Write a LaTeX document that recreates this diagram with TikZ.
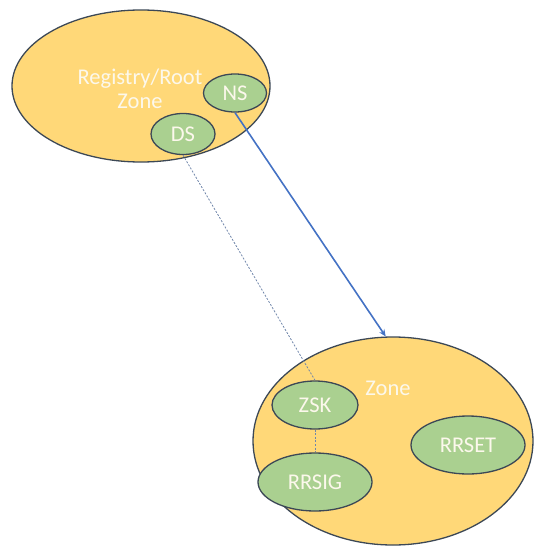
\documentclass[tikz,border=0pt]{standalone}
\usepackage{fontspec}
\setmainfont{Carlito}
\usetikzlibrary{shapes.geometric,arrows.meta}
\definecolor{zonefill}{RGB}{255,216,120}
\definecolor{keyfill}{RGB}{170,208,144}
\definecolor{rim}{RGB}{60,72,86}
\definecolor{link}{RGB}{68,114,196}
\definecolor{sig}{RGB}{112,134,170}
\definecolor{label}{RGB}{252,248,236}

\begin{document}
\begin{tikzpicture}[x=1pt,y=-1pt,
    zonebox/.style={ellipse,draw=rim,line width=1.3pt,fill=zonefill,inner sep=0pt},
    keybox/.style={ellipse,draw=rim,line width=1.3pt,fill=keyfill,inner sep=0pt,
      text=label,font=\fontsize{22.5}{26}\selectfont},
    ptr/.style={link,line width=1.6pt,-{Stealth[length=7pt,width=6pt]}},
    sigline/.style={sig,line width=0.8pt,dash pattern=on 2pt off 1.6pt}]
  % page size
  \useasboundingbox (0,0) rectangle (536,546);

  % parent zone with its delegation records
  \node[zonebox,minimum width=258,minimum height=152] (root) at (141,86) {};
  \node[text=label,align=center,font=\fontsize{22.5}{24}\selectfont] (rootname) at (140,89)
    {Registry/Root\\Zone};
  \node[keybox,minimum width=63,minimum height=38] (ns) at (235,93) {NS};
  \node[keybox,minimum width=64,minimum height=41] (ds) at (183,134) {DS};

  % child zone with key, signature and record set
  \node[zonebox,minimum width=280,minimum height=208] (zone) at (393,441) {};
  \node[text=label,font=\fontsize{22.5}{26}\selectfont] (zonename) at (388,388) {Zone};
  \node[keybox,minimum width=86,minimum height=48] (zsk) at (315,405) {ZSK};
  \node[keybox,minimum width=114,minimum height=58] (rrsig) at (315,482) {RRSIG};
  \node[keybox,minimum width=114,minimum height=58] (rrset) at (468,445) {RRSET};

  % delegation: NS points down to the child zone
  \draw[ptr] (ns.south) -- (zone.94);

  % DS matches the key, key signs the set
  \draw[sigline] (ds.south) -- (zsk.north);
  \draw[sigline] (zsk.south) -- (rrsig.north);
\end{tikzpicture}
\end{document}
